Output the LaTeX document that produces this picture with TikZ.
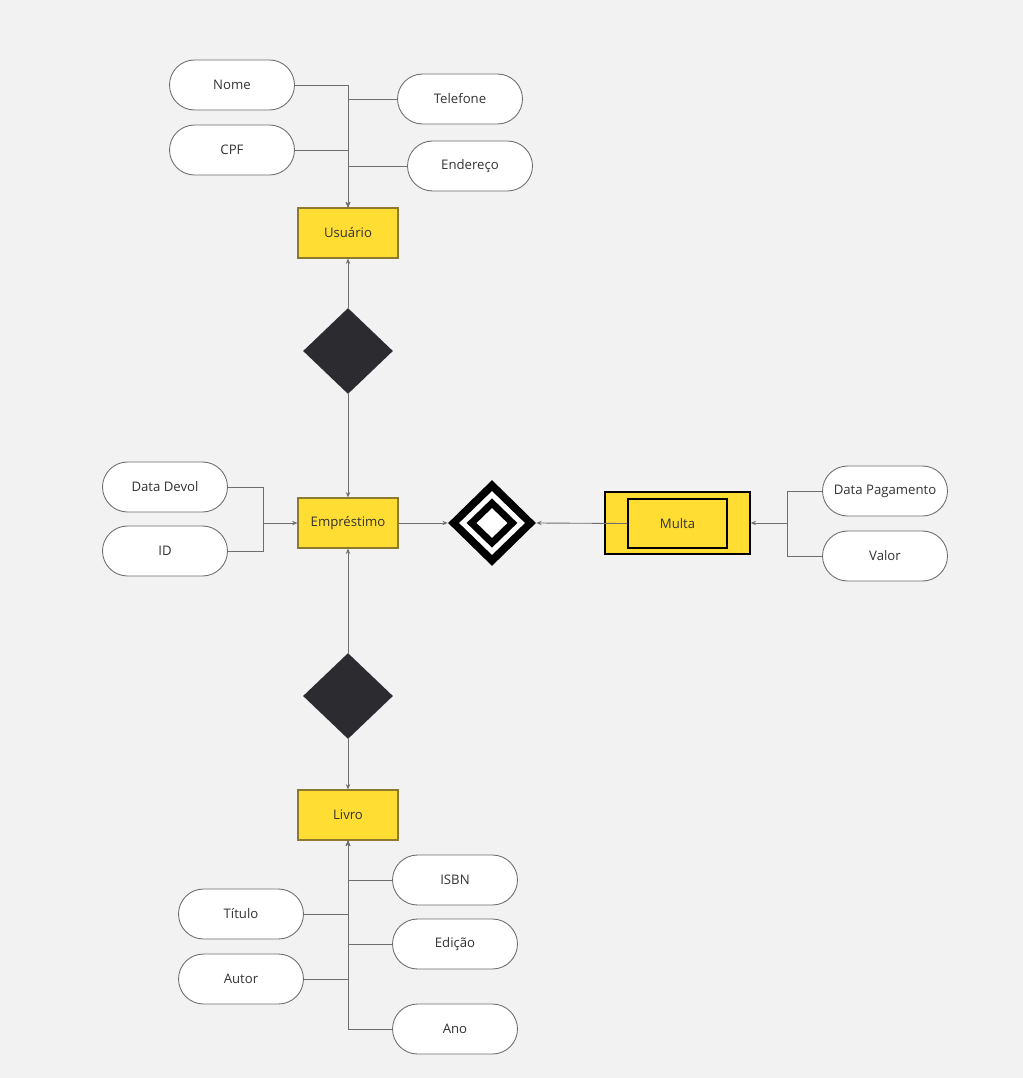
\documentclass[tikz,border=0pt]{standalone}
\usepackage{fontspec}
\setmainfont{Open Sans}
\usetikzlibrary{shapes.geometric,arrows.meta}

\definecolor{bgcol}{HTML}{F2F2F2}
\definecolor{entfill}{HTML}{FFDD33}
\definecolor{entline}{HTML}{8C7A2E}
\definecolor{relfill}{HTML}{2B2B30}
\definecolor{wire}{HTML}{6E6E6E}
\definecolor{txt}{HTML}{333333}

\begin{document}
\begin{tikzpicture}[x = 0.02cm, y = -0.02cm,
  attr/.style = {draw = wire, fill = white, line width = 0.5pt, rounded corners = 0.5cm,
    minimum width = 2.5cm, minimum height = 1cm, inner sep = 0pt, text = txt,
    font = \fontsize{7.5}{9}\selectfont},
  entity/.style = {draw = entline, fill = entfill, line width = 0.7pt,
    minimum width = 2cm, minimum height = 1cm, inner sep = 0pt, text = txt,
    font = \fontsize{7.5}{9}\selectfont},
  rel/.style = {diamond, fill = relfill, inner sep = 0pt,
    minimum width = 1.8cm, minimum height = 1.72cm},
  wk/.style = {diamond, inner sep = 0pt},
  con/.style = {draw = wire, line width = 0.5pt},
  tip/.style = {con, -{Stealth[length = 3pt, width = 2.5pt]}}]
\fill[bgcol] (0, 0) rectangle (1023, 1078);
\useasboundingbox (0, 0) rectangle (1023, 1078);

% entities
\node[entity] (usu) at (348, 233){Usuário};
\node[entity] (emp) at (348, 523){Empréstimo};
\node[entity] (liv) at (348, 815){Livro};
\node[draw = black, fill = entfill, line width = 0.8pt, minimum width = 2.9cm,
  minimum height = 1.24cm] (mul) at (677.5, 523){};
\node[entity, draw = black, line width = 0.8pt, minimum width = 1.98cm,
  minimum height = 0.98cm] (mulin) at (677.5, 523.5){Multa};

% relationships
\node[rel] (rel1) at (348, 351){};
\node[rel] (rel2) at (348, 696){};
\node[wk, fill = black, minimum width = 1.76cm, minimum height = 1.72cm] (rel3) at (492, 523){};
\node[wk, fill = white, minimum width = 1.32cm, minimum height = 1.28cm] at (rel3){};
\node[wk, fill = black, minimum width = 1.02cm, minimum height = 0.99cm] at (rel3){};
\node[wk, fill = white, minimum width = 0.62cm, minimum height = 0.6cm] at (rel3){};

% attributes
\node[attr] (nome) at (232, 85){Nome};
\node[attr] (cpf) at (232, 150){CPF};
\node[attr] (tel) at (460, 99){Telefone};
\node[attr] (end) at (470, 166){Endereço};
\node[attr] (dd) at (165, 487){Data Devol};
\node[attr] (id) at (165, 551){ID};
\node[attr] (dp) at (885, 491){Data Pagamento};
\node[attr] (val) at (885, 556){Valor};
\node[attr] (isbn) at (455, 880){ISBN};
\node[attr] (edi) at (455, 944){Edição};
\node[attr] (ano) at (455, 1029){Ano};
\node[attr] (tit) at (241, 914){Título};
\node[attr] (aut) at (241, 979){Autor};

\coordinate (jemp) at (263, 523);
\coordinate (jmul) at (787, 523);

% connectors
\draw[tip] (nome.east) -| (usu.north);
\draw[tip] (cpf.east) -| (usu.north);
\draw[tip] (tel.west) -| (usu.north);
\draw[tip] (end.west) -| (usu.north);
\draw[tip] (rel1.north) -- (usu.south);
\draw[tip] (rel1.south) -- (emp.north);
\draw[con] (dd.east) -| (jemp);
\draw[con] (id.east) -| (jemp);
\draw[tip] (jemp) -- (emp.west);
\draw[tip] (emp.east) -- (rel3.west);
\draw[tip] (mulin.west) -- (rel3.east);
\draw[con] (dp.west) -| (jmul);
\draw[con] (val.west) -| (jmul);
\draw[tip] (jmul) -- (mul.east);
\draw[tip] (rel2.north) -- (emp.south);
\draw[tip] (rel2.south) -- (liv.north);
\draw[tip] (isbn.west) -| (liv.south);
\draw[tip] (edi.west) -| (liv.south);
\draw[tip] (ano.west) -| (liv.south);
\draw[tip] (tit.east) -| (liv.south);
\draw[tip] (aut.east) -| (liv.south);
\end{tikzpicture}
\end{document}
